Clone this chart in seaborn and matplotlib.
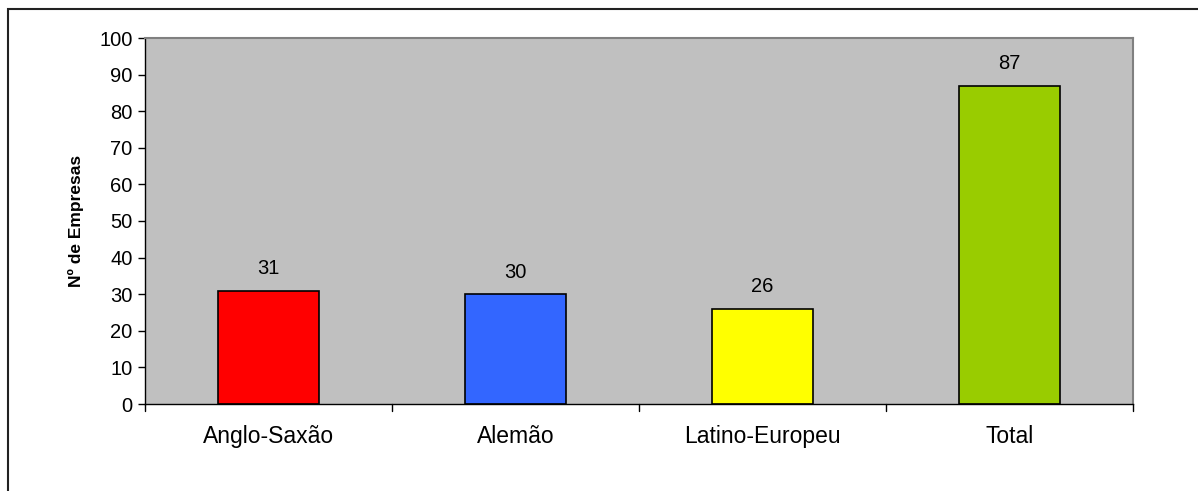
import pandas as pd
import numpy as np
import matplotlib.pyplot as plt
import matplotlib.patches as mpatches
import seaborn as sns

# Dados do gráfico
categorias = ["Anglo-Saxão", "Alemão", "Latino-Europeu", "Total"]
empresas = [31, 30, 26, 87]
cores = ["#FF0000", "#3366FF", "#FFFF00", "#99CC00"]

df = pd.DataFrame({"categoria": categorias, "empresas": empresas})

sns.set_style("white")
plt.rcParams["font.family"] = ["Liberation Sans", "DejaVu Sans"]
plt.rcParams["text.color"] = "black"
plt.rcParams["xtick.color"] = "black"
plt.rcParams["ytick.color"] = "black"
plt.rcParams["axes.labelcolor"] = "black"

fig = plt.figure(figsize=(11.98, 4.91), dpi=100)
ax = fig.add_axes([145 / 1198, 1 - 404 / 491, (1133 - 145) / 1198, (404 - 38) / 491])

sns.barplot(data=df, x="categoria", y="empresas", hue="categoria", palette=cores,
            saturation=1, width=0.41, edgecolor="black", linewidth=1.2,
            legend=False, ax=ax)

ax.set_facecolor("#C0C0C0")
ax.set_xlim(-0.5, len(categorias) - 0.5)
ax.set_ylim(0, 100)
ax.set_yticks(np.arange(0, 101, 10))
ax.tick_params(axis="y", labelsize=14.5, length=5, width=1, direction="out", pad=4, left=True)
ax.tick_params(axis="x", labelsize=16.5, length=0, pad=15)

# ticks entre categorias
for xb in np.arange(-0.5, len(categorias), 1.0):
    ax.plot([xb, xb], [0, -1.8], color="black", lw=1, clip_on=False)

for lado in ["top", "right"]:
    ax.spines[lado].set_color("#808080")
    ax.spines[lado].set_linewidth(1.5)
for lado in ["left", "bottom"]:
    ax.spines[lado].set_color("black")
    ax.spines[lado].set_linewidth(1)

ax.set_xlabel("")
ax.set_ylabel("Nº de Empresas", fontsize=12.5, fontweight="bold", labelpad=11)

# rótulos dos valores
for i, v in enumerate(empresas):
    ax.annotate(str(v), (i, v), xytext=(0, 9), textcoords="offset points",
                ha="center", va="bottom", fontsize=14.5)

# moldura do gráfico
moldura = mpatches.Rectangle((8 / 1198, -0.1), 1.2, 1 - 9 / 491 + 0.1,
                             transform=fig.transFigure, fill=False,
                             edgecolor="#222222", linewidth=1.5, clip_on=False)
fig.patches.append(moldura)

plt.savefig("out.png", dpi=100)
plt.close()
